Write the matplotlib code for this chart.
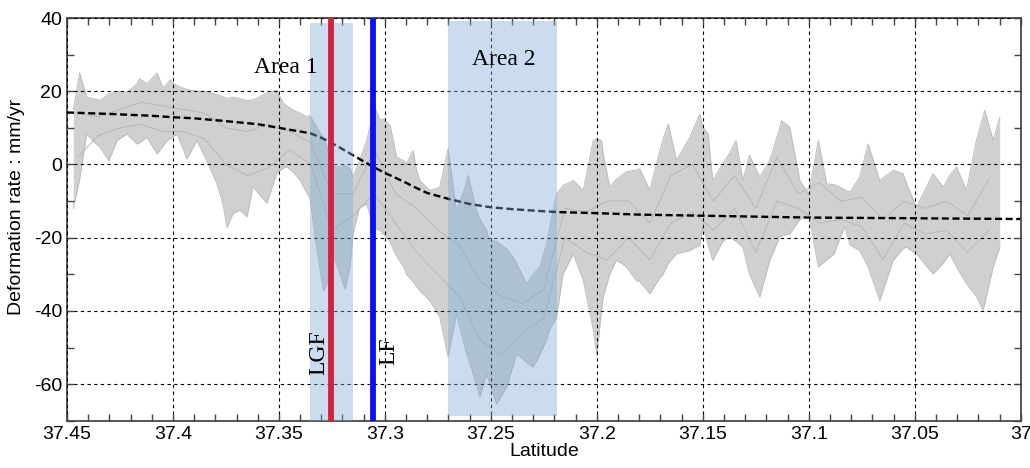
import numpy as np
import matplotlib
matplotlib.use('Agg')
import matplotlib.pyplot as plt
from matplotlib.ticker import MultipleLocator

# envelope of the profile bundle (latitude, upper, lower)
lat = [37.4470, 37.4440, 37.4407, 37.4377, 37.4344, 37.4302, 37.4264, 37.4217,
       37.4170, 37.4156, 37.4123, 37.4075, 37.4047, 37.4028, 37.4014, 37.3980,
       37.3934, 37.3887, 37.3840, 37.3792, 37.3764, 37.3745, 37.3717, 37.3684,
       37.3650, 37.3623, 37.3557, 37.3510, 37.3480, 37.3462, 37.3434, 37.3400,
       37.3368, 37.3354, 37.3322, 37.3290, 37.3274, 37.3259, 37.3245, 37.3230,
       37.3212, 37.3188, 37.3165, 37.3150, 37.3120, 37.3086, 37.3063, 37.3055,
       37.3023, 37.3008, 37.2976, 37.2958, 37.2945, 37.2911, 37.2898, 37.2867,
       37.2849, 37.2835, 37.2788, 37.2741, 37.2702, 37.2662, 37.2615, 37.2607,
       37.2568, 37.2552, 37.2521, 37.2505, 37.2473, 37.2458, 37.2426, 37.2395,
       37.2379, 37.2332, 37.2301, 37.2269, 37.2238, 37.2222, 37.2190, 37.2159,
       37.2111, 37.2064, 37.2017, 37.2000, 37.1978, 37.1970, 37.1939, 37.1908,
       37.1883, 37.1861, 37.1813, 37.1797, 37.1750, 37.1703, 37.1687, 37.1663,
       37.1624, 37.1561, 37.1514, 37.1500, 37.1475, 37.1453, 37.1406, 37.1374,
       37.1343, 37.1311, 37.1280, 37.1231, 37.1184, 37.1137, 37.1129, 37.1090,
       37.1042, 37.1000, 37.0955, 37.0915, 37.0880, 37.0852, 37.0830, 37.0805,
       37.0760, 37.0720, 37.0665, 37.0602, 37.0555, 37.0540, 37.0492, 37.0414,
       37.0366, 37.0335, 37.0303, 37.0256, 37.0209, 37.0178, 37.0170, 37.0130,
       37.0099]
upper = [15.0, 25.0, 18.4, 18.0, 17.5, 19.3, 20.0, 19.7,
         22.0, 23.4, 22.0, 25.0, 21.0, 22.0, 23.0, 21.5,
         20.5, 20.0, 20.0, 19.0, 18.5, 18.0, 18.4, 18.0,
         17.5, 17.6, 19.5, 20.3, 16.8, 16.0, 14.9, 14.0,
         13.0, 13.4, 10.2, 7.4, 5.0, 1.0, 0.0, -0.8,
         -0.5, -0.3, -1.0, -3.5, 1.0, 6.5, 12.0, 16.8,
         12.0, 12.5, 10.7, 6.0, 2.0, 1.0, 0.2, 3.8,
         -2.0, -4.4, -7.1, -6.2, 4.3, -12.6, -5.0, -3.0,
         -12.6, -15.0, -18.0, -20.8, -21.0, -21.7, -23.0, -25.3,
         -27.0, -32.6, -30.0, -28.0, -22.0, -17.0, -8.0, -5.7,
         -4.4, -7.1, 6.6, 7.0, 6.6, 3.0, -6.2, -4.0,
         -3.0, -2.0, -1.5, -1.2, -7.1, 3.8, 7.0, 11.1,
         1.1, 7.5, 13.8, 10.2, 8.4, -4.4, 0.2, 3.0,
         6.6, -4.4, 2.5, -3.5, 1.1, 10.0, 12.0, 10.2,
         -4.4, -8.0, 6.6, -5.3, -5.5, -6.2, -7.0, -7.5,
         -3.5, 5.6, -4.4, -1.6, -2.5, -5.0, -11.7, -2.5,
         -6.2, -3.0, -0.7, -7.1, 6.6, 13.0, 14.8, 6.6,
         12.9]
lower = [-12.0, -4.0, 8.3, 6.5, 4.7, 1.0, 6.5, 8.3,
         5.6, 6.0, 7.4, 2.9, 5.0, 6.5, 7.0, 8.3,
         1.5, 6.5, 1.0, -5.3, -10.8, -17.2, -13.5, -12.5,
         -14.3, -6.1, -10.6, -2.4, -1.0, -0.7, -2.0, -4.3,
         -7.8, -9.0, -22.6, -34.5, -32.6, -28.0, -24.4, -27.0,
         -29.9, -34.0, -28.0, -19.0, -11.7, -10.8, -15.0, -17.2,
         -18.0, -19.0, -21.0, -23.5, -25.0, -28.0, -30.0, -32.0,
         -33.5, -34.5, -37.2, -41.7, -52.6, -40.8, -51.7, -53.0,
         -60.0, -63.6, -57.2, -60.0, -65.4, -64.0, -60.8, -55.0,
         -51.7, -54.0, -55.4, -52.0, -48.0, -45.0, -41.7, -29.9,
         -24.4, -31.7, -45.0, -52.2, -40.0, -36.2, -30.0, -26.2,
         -27.0, -28.0, -31.7, -32.0, -35.3, -31.0, -29.9, -27.0,
         -24.4, -23.5, -22.0, -17.0, -22.0, -26.2, -21.0, -19.8,
         -21.0, -22.6, -30.0, -36.2, -26.2, -19.8, -19.5, -19.0,
         -15.0, -13.5, -28.0, -26.0, -24.4, -20.0, -17.0, -22.0,
         -23.5, -28.0, -37.2, -26.2, -23.0, -22.6, -24.4, -29.9,
         -27.0, -24.4, -28.0, -32.6, -36.0, -39.9, -38.0, -28.0,
         -22.6]

# two inner profiles of the bundle (coarser reading)
prof_lat = [37.445, 37.435, 37.425, 37.415, 37.405, 37.395, 37.385, 37.375,
            37.365, 37.355, 37.345, 37.335, 37.325, 37.315, 37.305, 37.295,
            37.285, 37.275, 37.265, 37.255, 37.245, 37.235, 37.225, 37.215,
            37.205, 37.195, 37.185, 37.175, 37.165, 37.155, 37.145, 37.135,
            37.125, 37.115, 37.105, 37.095, 37.085, 37.075, 37.065, 37.055,
            37.045, 37.035, 37.025, 37.015]
prof_a = [14, 13, 15, 17, 16, 15, 14, 10, 9, 11, 9, 6, -8, -8, 4, -8,
          -12, -18, -22, -32, -36, -38, -34, -12, -13, -10, -10, -16, -3, 0,
          -10, -3, -12, 2, -8, -5, -10, -9, -15, -10, -12, -10, -14, -4]
prof_b = [2, 8, 10, 11, 9, 9, 7, 0, -3, -1, 4, 0, -18, -14, -8, -16,
          -24, -30, -36, -48, -52, -46, -42, -20, -24, -26, -20, -26, -16, -13,
          -18, -12, -24, -10, -12, -16, -15, -17, -26, -16, -19, -18, -24, -18]

# fitted (dashed) curve
fit_lat = [37.45, 37.43, 37.41, 37.40, 37.39, 37.378, 37.36, 37.35, 37.34,
           37.335, 37.33, 37.3256, 37.32, 37.315, 37.3057, 37.30, 37.29,
           37.2867, 37.28, 37.27, 37.26, 37.25, 37.24, 37.23, 37.219, 37.20,
           37.18, 37.15, 37.10, 37.05, 37.00]
fit_val = [14.2, 13.8, 13.3, 12.9, 12.6, 12.0, 11.0, 10.0, 9.0,
           8.5, 7.3, 6.0, 4.2, 2.5, -0.6, -2.3, -5.0,
           -6.0, -7.8, -9.4, -10.8, -11.7, -12.2, -12.6, -13.0, -13.3,
           -13.7, -14.0, -14.5, -14.7, -14.9]

# shaded areas: (lat start, lat end, bottom, top)
area_names = ['Area 1', 'Area 2']
area_lat0 = [37.3354, 37.2704]
area_lat1 = [37.3150, 37.2187]
area_bot = [-70.0, -68.6]
area_top = [38.7, 39.3]

faults = ['LGF', 'LF']
fault_lat = [37.3256, 37.3057]
fault_col = ['#d2233a', '#0a10f5']

plt.rcParams['font.family'] = ['Liberation Sans', 'DejaVu Sans']
plt.rcParams['axes.unicode_minus'] = False

fig = plt.figure(figsize=(10.3, 4.68), dpi=100)
ax = fig.add_axes([0.065, 0.101, 0.926, 0.8605])

ax.fill_between(lat, lower, upper, color='#d0d0d0', lw=0, zorder=2)
ax.plot(lat, upper, color='#bdbdbd', lw=0.7, zorder=2)
ax.plot(lat, lower, color='#bdbdbd', lw=0.7, zorder=2)
ax.plot(prof_lat, prof_a, color='#b8b8b8', lw=0.7, zorder=2)
ax.plot(prof_lat, prof_b, color='#b8b8b8', lw=0.7, zorder=2)

ax.plot(fit_lat, fit_val, color='black', lw=1.7, ls=(0, (3, 1.5)), zorder=2.2)

for x0, x1, b, t in zip(area_lat0, area_lat1, area_bot, area_top):
    ax.fill_between([x0, x1], [b, b], [t, t], color='#7da8da', alpha=0.4,
                    lw=0, zorder=3)

for x, c in zip(fault_lat, fault_col):
    ax.axvline(x, color=c, lw=4.2, zorder=4)

ax.text(37.3468, 26.5, area_names[0], family='Liberation Serif', fontsize=17,
        ha='center', va='center', zorder=5)
ax.text(37.2440, 28.8, area_names[1], family='Liberation Serif', fontsize=17,
        ha='center', va='center', zorder=5)
ax.text(37.3311, -51.5, faults[0], family='Liberation Serif', fontsize=17,
        rotation=90, ha='center', va='center', zorder=5)
ax.text(37.2981, -51.0, faults[1], family='Liberation Serif', fontsize=17,
        rotation=90, ha='center', va='center', zorder=5)

ax.set_xlim(37.45, 37.0)
ax.set_ylim(-70, 40)
ax.xaxis.set_minor_locator(MultipleLocator(0.01))
ax.yaxis.set_major_locator(MultipleLocator(20))
ax.yaxis.set_minor_locator(MultipleLocator(10))
ax.set_xticks(np.arange(37.0, 37.451, 0.05))
ax.set_xticklabels(['37', '37.05', '37.1', '37.15', '37.2', '37.25', '37.3',
                    '37.35', '37.4', '37.45'])
ax.tick_params(which='both', direction='in', top=True, right=True,
               labelsize=14, color='#444444', length=5, width=1)
ax.grid(True, which='major', color='black', lw=0.8, ls=(0, (3, 3)))
ax.set_axisbelow(False)
for s in ax.spines.values():
    s.set_color('#555555')
    s.set_linewidth(1.4)

ax.set_xlabel('Latitude', fontsize=14, labelpad=0)
ax.set_ylabel('Deformation rate : mm/yr', fontsize=14)
ax.yaxis.set_label_coords(-0.044, 0.53)

fig.savefig('out.png', dpi=100)
